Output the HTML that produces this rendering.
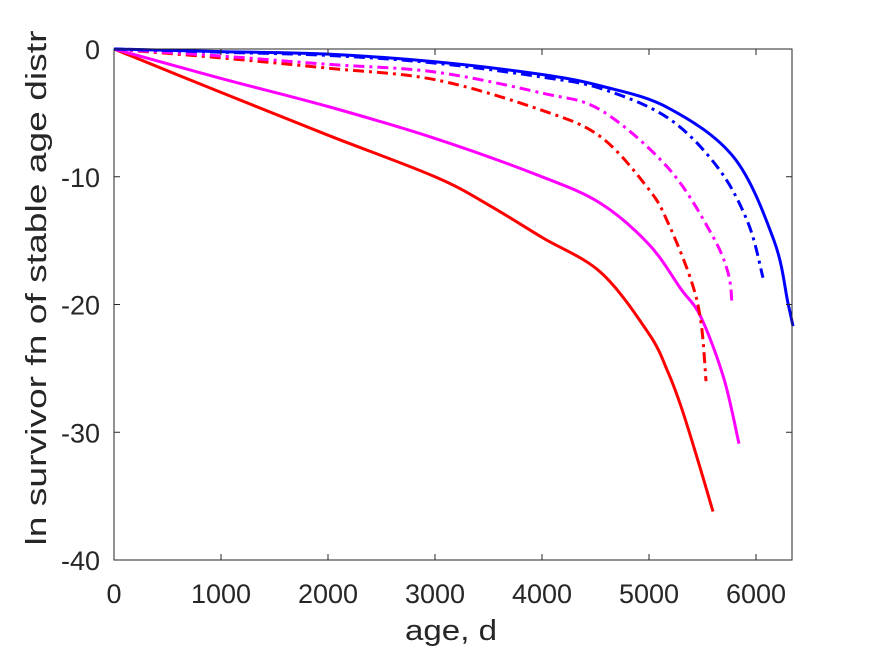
<!DOCTYPE html>
<html><head><meta charset="utf-8"><style>
body{margin:0;background:#fff;}
svg{display:block;font-family:"Liberation Sans",sans-serif;}
</style></head><body>
<svg id="chart" width="875" height="656">
<rect width="875" height="656" fill="#fff"/>
<g id="plot"></g>
</svg>
<script>
const xTicks=[0,1000,2000,3000,4000,5000,6000];
const yTicks=[0,-10,-20,-30,-40];
const redSolidX=[0,1000,2000,3000,3500,4000,4551,5000,5178,5300,5450,5598];
const redSolidY=[0,-3.4,-6.75,-10.0,-12.2,-14.75,-17.5,-22.3,-25.3,-28,-32,-36.2];
const magSolidX=[0,1000,2000,3000,4000,4551,5000,5300,5486,5700,5841];
const magSolidY=[0,-2.3,-4.5,-7.0,-10.0,-12.1,-15.3,-18.8,-21,-25.8,-30.9];
const redDashX=[0,1000,2000,3000,4000,4551,5000,5178,5393,5486,5533];
const redDashY=[0,-0.7,-1.5,-2.4,-4.8,-6.9,-11.0,-13.6,-18.1,-21.4,-26];
const magDashX=[0,1000,2000,3000,4000,4551,5178,5579,5738,5776];
const magDashY=[0,-0.55,-1.2,-1.8,-3.45,-4.8,-9.3,-14.4,-17.5,-20];
const blueDashX=[0,1000,2000,3000,4000,4551,5178,5645,5925,6065];
const blueDashY=[0,-0.25,-0.5,-1.1,-2.2,-3.1,-5.4,-9.3,-13.6,-17.9];
const blueSolidX=[0,1000,2000,3000,4000,4551,5178,5794,6168,6299,6346];
const blueSolidY=[0,-0.2,-0.4,-1.0,-2.0,-2.9,-4.6,-8.5,-15,-19.9,-21.7];

const X0=114,X1=792,Y0=49,Y1=560;
const xs=v=>X0+v*107/1000;
const ys=v=>Y0+(0-v)/40*(Y1-Y0);
const NS="http://www.w3.org/2000/svg";
const g=document.getElementById('plot');
function mk(t,a){const e=document.createElementNS(NS,t);for(const k in a)e.setAttribute(k,a[k]);g.appendChild(e);return e;}

function smoothPath(P){
  let d="M"+P[0][0].toFixed(1)+","+P[0][1].toFixed(1);
  for(let i=0;i<P.length-1;i++){
    const p0=P[Math.max(0,i-1)],p1=P[i],p2=P[i+1],p3=P[Math.min(P.length-1,i+2)];
    const c1=[p1[0]+(p2[0]-p0[0])/6,p1[1]+(p2[1]-p0[1])/6];
    const c2=[p2[0]-(p3[0]-p1[0])/6,p2[1]-(p3[1]-p1[1])/6];
    d+=" C"+c1[0].toFixed(1)+","+c1[1].toFixed(1)+" "+c2[0].toFixed(1)+","+c2[1].toFixed(1)+" "+p2[0].toFixed(1)+","+p2[1].toFixed(1);
  }
  return d;
}
function series(xa,ya,color,dash,name){
  const P=xa.map((x,i)=>[xs(x),ys(ya[i])]);
  const p=mk('path',{d:smoothPath(P),fill:'none',stroke:color,'stroke-width':3,'stroke-linejoin':'round'});
  if(dash)p.setAttribute('stroke-dasharray','11,5,3,5');
  
  
}
series(redSolidX,redSolidY,'#ff0000',false,'red-solid-line');
series(magSolidX,magSolidY,'#ff00ff',false,'magenta-solid-line');
series(redDashX,redDashY,'#ff0000',true,'red-dashdot-line');
series(magDashX,magDashY,'#ff00ff',true,'magenta-dashdot-line');
series(blueDashX,blueDashY,'#0000ff',true,'blue-dashdot-line');
series(blueSolidX,blueSolidY,'#0000ff',false,'blue-solid-line');

const box=mk('rect',{x:X0,y:Y0,width:X1-X0,height:Y1-Y0,fill:'none',stroke:'#262626','stroke-width':1});



xTicks.forEach(t=>{
  const x=xs(t);
  mk('line',{x1:x,x2:x,y1:Y1,y2:Y1-6,stroke:'#262626'});
  mk('line',{x1:x,x2:x,y1:Y0,y2:Y0+6,stroke:'#262626'});
  const tx=mk('text',{x:x,y:Y1+43,'text-anchor':'middle','font-size':27,fill:'#262626'});
  tx.textContent=t;
  
  
});
yTicks.forEach(t=>{
  const y=ys(t);
  mk('line',{x1:X0,x2:X0+6,y1:y,y2:y,stroke:'#262626'});
  mk('line',{x1:X1,x2:X1-6,y1:y,y2:y,stroke:'#262626'});
  const tx=mk('text',{x:X0-14,y:y+10,'text-anchor':'end','font-size':27,fill:'#262626'});
  tx.textContent=t;
  
  
});
const xl=mk('text',{x:451,y:640,'text-anchor':'middle','font-size':29,fill:'#262626',textLength:92,lengthAdjust:'spacingAndGlyphs'});
xl.textContent='age, d';


const yl=mk('text',{x:0,y:0,'text-anchor':'middle','font-size':29,fill:'#262626',textLength:515,lengthAdjust:'spacingAndGlyphs',transform:'translate(46,288) rotate(-90)'});
yl.textContent='ln survivor fn of stable age distr';


</script>
</body></html>
